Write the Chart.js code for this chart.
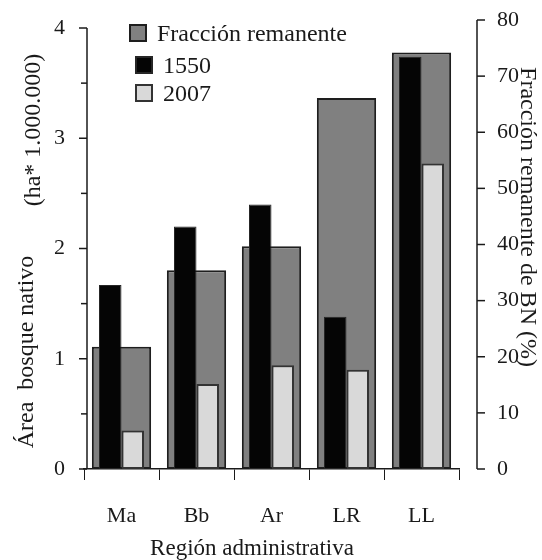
<!DOCTYPE html>
<html>
<head>
<meta charset="utf-8">
<script src="https://cdn.jsdelivr.net/npm/chart.js@4.4.1/dist/chart.umd.min.js"></script>
<style>
  html, body { margin: 0; padding: 0; background: #fff; }
</style>
</head>
<body>
<canvas id="bosque" width="542" height="560"></canvas>
<script>
// Datos

var regiones = ["Ma", "Bb", "Ar", "LR", "LL"];
var area1550 = [1.67, 2.20, 2.40, 1.38, 3.74];
var area2007 = [0.35, 0.77, 0.94, 0.90, 2.77];
var fraccion = [21.8, 35.4, 39.7, 66.1, 74.2];
var ticksArea = [0, 1, 2, 3, 4];
var ticksMenores = [0.5, 1.5, 2.5, 3.5];
var ticksFraccion = [0, 10, 20, 30, 40, 50, 60, 70, 80];

var serif = '"Liberation Serif", "DejaVu Serif", serif';
var ink = "#1a1a1a";

// Ejes Y, titulos y leyenda dibujados a mano

var ejes = {
  id: "ejes",
  afterDraw: function (chart) {
    var ctx = chart.ctx;
    var area = chart.chartArea;
    var y = chart.scales.y;
    var y2 = chart.scales.y2;
    ctx.save();
    ctx.strokeStyle = ink;
    ctx.fillStyle = ink;
    ctx.lineWidth = 1.5;

    // eje izquierdo
    var xl = area.left + 3;
    ctx.beginPath();
    ctx.moveTo(xl, y.getPixelForValue(0));
    ctx.lineTo(xl, y.getPixelForValue(4));
    ctx.stroke();
    ctx.font = "22px " + serif;
    ctx.textAlign = "right";
    ctx.textBaseline = "middle";
    ticksArea.forEach(function (v) {
      var py = y.getPixelForValue(v);
      ctx.beginPath();
      ctx.moveTo(xl - 8, py);
      ctx.lineTo(xl, py);
      ctx.stroke();
      ctx.fillText(String(v), xl - 22, py);
    });
    ticksMenores.forEach(function (v) {
      var py = y.getPixelForValue(v);
      ctx.beginPath();
      ctx.moveTo(xl - 6, py);
      ctx.lineTo(xl, py);
      ctx.stroke();
    });

    // eje derecho
    var xr = area.right + 18;
    ctx.beginPath();
    ctx.moveTo(xr, y2.getPixelForValue(0));
    ctx.lineTo(xr, y2.getPixelForValue(80));
    ctx.stroke();
    ctx.textAlign = "left";
    ticksFraccion.forEach(function (v) {
      var py = y2.getPixelForValue(v);
      ctx.beginPath();
      ctx.moveTo(xr, py);
      ctx.lineTo(xr + 8, py);
      ctx.stroke();
      ctx.fillText(String(v), xr + 20, py);
    });

    // titulos
    ctx.font = "24px " + serif;
    ctx.textAlign = "center";
    ctx.textBaseline = "alphabetic";

    ctx.save();
    ctx.translate(40, 130);
    ctx.rotate(-Math.PI / 2);
    ctx.fillText("(ha* 1.000.000)", 0, 0);
    ctx.restore();

    ctx.save();
    ctx.translate(33, 352);
    ctx.rotate(-Math.PI / 2);
    ctx.fillText("Área  bosque nativo", 0, 0);
    ctx.restore();

    ctx.save();
    ctx.translate(521, 217);
    ctx.rotate(Math.PI / 2);
    ctx.fillText("Fracción remanente de BN (%)", 0, 0);
    ctx.restore();

    ctx.font = "23px " + serif;
    ctx.fillText("Región administrativa", 252, 555);

    // leyenda
    var items = [
      { ds: 0, x: 129, y: 24, tx: 157, ty: 41 },
      { ds: 1, x: 135, y: 56, tx: 163, ty: 73 },
      { ds: 2, x: 135, y: 84, tx: 163, ty: 101 }
    ];
    ctx.font = "24px " + serif;
    ctx.textAlign = "left";
    items.forEach(function (it) {
      var d = chart.data.datasets[it.ds];
      ctx.fillStyle = d.backgroundColor;
      ctx.fillRect(it.x, it.y, 18, 18);
      ctx.lineWidth = 2;
      ctx.strokeStyle = d.borderColor;
      ctx.strokeRect(it.x + 1, it.y + 1, 16, 16);
      ctx.fillStyle = ink;
      ctx.fillText(d.label, it.tx, it.ty);
    });
    ctx.restore();
  }
};

new Chart(document.getElementById("bosque"), {
  type: "bar",
  data: {
    labels: regiones,
    datasets: [
      {
        label: "Fracción remanente",
        data: fraccion,
        yAxisID: "y2",
        grouped: false,
        backgroundColor: "#808080",
        borderColor: "#1e1e1e",
        borderWidth: 2,
        borderSkipped: false,
        categoryPercentage: 1,
        barPercentage: 0.79,
        order: 2
      },
      {
        label: "1550",
        data: area1550,
        yAxisID: "y",
        backgroundColor: "#050505",
        borderColor: "#262626",
        borderWidth: 1,
        borderSkipped: false,
        categoryPercentage: 0.6,
        barPercentage: 1,
        order: 1
      },
      {
        label: "2007",
        data: area2007,
        yAxisID: "y",
        backgroundColor: "#d9d9d9",
        borderColor: "#333333",
        borderWidth: 2,
        borderSkipped: false,
        categoryPercentage: 0.6,
        barPercentage: 1,
        order: 1
      }
    ]
  },
  options: {
    responsive: false,
    animation: false,
    layout: {
      padding: { left: 84, right: 83, top: 20, bottom: 0 }
    },
    plugins: {
      legend: { display: false },
      tooltip: { enabled: false }
    },
    scales: {
      x: {
        type: "category",
        offset: true,
        grid: {
          display: true,
          drawOnChartArea: false,
          drawTicks: true,
          tickLength: 11,
          color: ink,
          lineWidth: 1,
          offset: true
        },
        border: { display: true, color: ink, width: 1.5 },
        ticks: {
          color: ink,
          font: { family: serif, size: 22 },
          padding: 23
        },
        afterFit: function (s) { s.height = 91; }
      },
      y: { display: false, min: 0, max: 4.0726 },
      y2: { display: false, position: "right", min: 0, max: 80 }
    }
  },
  plugins: [ejes]
});
</script>
</body>
</html>
